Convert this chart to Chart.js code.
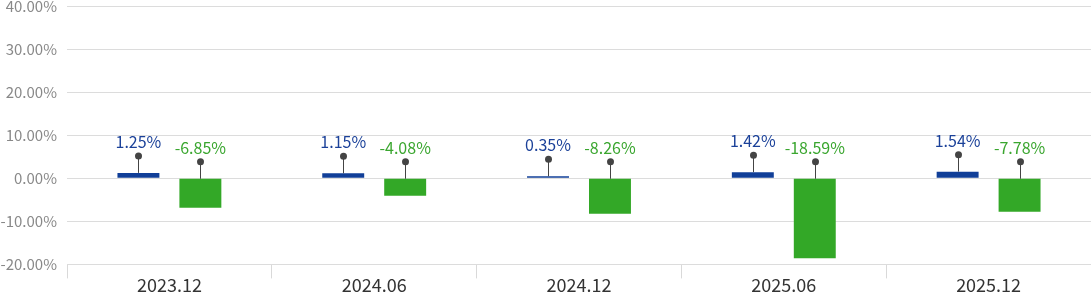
<!DOCTYPE html>
<html>
<head>
<meta charset="utf-8">
<script src="https://cdn.jsdelivr.net/npm/chart.js@4"></script>
<style>
  body { margin: 0; background: #fff; overflow: hidden; }
  canvas { display: block; margin-top: -13px; }
</style>
</head>
<body>
<canvas id="chart" width="1091" height="305"></canvas>
<script>
const categories = ["2023.12", "2024.06", "2024.12", "2025.06", "2025.12"];
const blueValues = [1.25, 1.15, 0.35, 1.42, 1.54];
const greenValues = [-6.85, -4.08, -8.26, -18.59, -7.78];
const yTicks = [-20, -10, 0, 10, 20, 30, 40];

const FONT = "'Noto Sans CJK KR', 'Noto Sans', sans-serif";
const labelColors = ["#1b4199", "#3aa62f"];

// dot + stem + value label above each bar
const pinLabels = {
    id: "pinLabels",
    afterDatasetsDraw(chart) {
        const ctx = chart.ctx;
        ctx.save();
        chart.data.datasets.forEach((ds, di) => {
            const meta = chart.getDatasetMeta(di);
            meta.data.forEach((bar, i) => {
                const top = Math.min(bar.y, bar.base);
                const dotY = top - 17;
                ctx.strokeStyle = "#444";
                ctx.lineWidth = 1;
                ctx.beginPath();
                ctx.moveTo(Math.round(bar.x) + 0.5, dotY);
                ctx.lineTo(Math.round(bar.x) + 0.5, top);
                ctx.stroke();
                ctx.fillStyle = "#444";
                ctx.beginPath();
                ctx.arc(Math.round(bar.x) + 0.5, dotY, 3.5, 0, Math.PI * 2);
                ctx.fill();
                ctx.fillStyle = labelColors[di];
                ctx.font = "16px " + FONT;
                ctx.textAlign = "center";
                ctx.textBaseline = "middle";
                ctx.fillText(ds.data[i].toFixed(2) + "%", bar.x, dotY - 14);
            });
        });
        ctx.restore();
    }
};

new Chart(document.getElementById("chart"), {
    type: "bar",
    data: {
        labels: categories,
        datasets: [
            { data: blueValues, backgroundColor: "#113f98", minBarLength: 2 },
            { data: greenValues, backgroundColor: "#33a827" }
        ]
    },
    options: {
        responsive: false,
        animation: false,
        categoryPercentage: 0.605,
        barPercentage: 0.677,
        plugins: {
            legend: { display: false },
            tooltip: { enabled: false }
        },
        scales: {
            x: {
                grid: { offset: true, drawOnChartArea: false, color: "#d9d9d9", tickLength: 14 },
                border: { display: false },
                ticks: { color: "#333", font: { family: FONT, size: 18 }, padding: -4 }
            },
            y: {
                min: yTicks[0],
                max: yTicks[yTicks.length - 1],
                afterBuildTicks(scale) {
                    scale.ticks = yTicks.map(v => ({ value: v }));
                },
                afterFit(scale) {
                    scale.width = 67;
                },
                grid: { color: "#dcdcdc", drawTicks: false },
                border: { display: false },
                ticks: {
                    color: "#888",
                    padding: 10,
                    font: { family: FONT, size: 15 },
                    callback: v => v.toFixed(2) + "%"
                }
            }
        }
    },
    plugins: [pinLabels]
});
</script>
</body>
</html>
